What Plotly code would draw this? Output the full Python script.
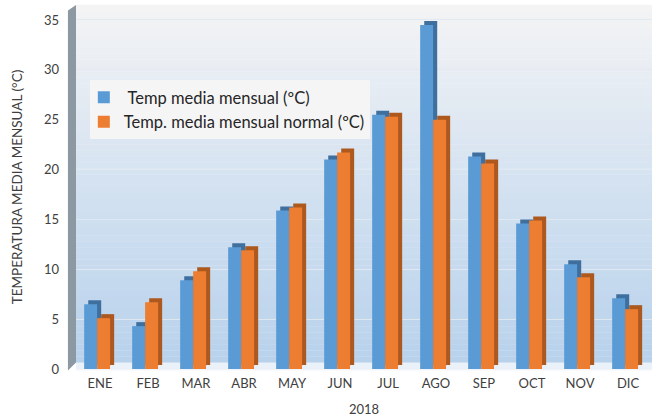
import plotly.graph_objects as go

months = ["ENE", "FEB", "MAR", "ABR", "MAY", "JUN", "JUL", "AGO", "SEP", "OCT", "NOV", "DIC"]
temp_media = [6.5, 4.3, 8.9, 12.2, 15.9, 21.0, 25.5, 34.5, 21.3, 14.6, 10.5, 7.1]
temp_normal = [5.1, 6.7, 9.8, 11.9, 16.2, 21.7, 25.3, 25.0, 20.6, 14.9, 9.2, 6.0]
y_ticks = [0, 5, 10, 15, 20, 25, 30, 35]

name_media = " Temp media mensual (ºC)"
name_normal = "Temp. media mensual normal (ºC)"

BLUE, BLUE_D = "#5b9bd5", "#3f6f9f"
ORANGE, ORANGE_D = "#ed7d31", "#ad581d"
W = 0.27
DX, DY = 0.085, 0.4

fig = go.Figure()
# 3D side/top faces (darker, shifted back)
fig.add_trace(go.Bar(x=months, y=temp_media, base=DY, offset=-0.33 + DX, width=W,
                     marker=dict(color=BLUE_D, line=dict(width=0)), showlegend=False, hoverinfo="skip"))
fig.add_trace(go.Bar(x=months, y=temp_media, offset=-0.33, width=W, name=name_media,
                     marker=dict(color=BLUE, line=dict(width=0))))
fig.add_trace(go.Bar(x=months, y=temp_normal, base=DY, offset=-0.06 + DX, width=W,
                     marker=dict(color=ORANGE_D, line=dict(width=0)), showlegend=False, hoverinfo="skip"))
fig.add_trace(go.Bar(x=months, y=temp_normal, offset=-0.06, width=W, name=name_normal,
                     marker=dict(color=ORANGE, line=dict(width=0))))

# background gradient (top light grey -> bottom light blue)
shapes = []
N = 60
top = (244, 244, 245)
mid = (212, 226, 241)
bot = (184, 210, 236)
for i in range(N):
    t = i / (N - 1)
    if t < 0.5:
        u = t / 0.5
        c = tuple(int(top[k] + (mid[k] - top[k]) * u) for k in range(3))
    else:
        u = (t - 0.5) / 0.5
        c = tuple(int(mid[k] + (bot[k] - mid[k]) * u) for k in range(3))
    y1 = 1 - i / N
    y0 = 1 - (i + 1) / N
    shapes.append(dict(type="rect", xref="paper", yref="paper", x0=0, x1=1, y0=y0, y1=y1 + 0.001,
                       fillcolor="rgb(%d,%d,%d)" % c, line=dict(width=0), layer="below"))
# floor band
shapes.append(dict(type="rect", xref="paper", yref="paper", x0=0, x1=1, y0=-0.004, y1=0.018,
                   fillcolor="rgba(240,244,249,0.9)", line=dict(width=0), layer="below"))
# left wall
shapes.append(dict(type="path", xref="paper", yref="paper",
                   path="M -0.014,-0.004 L 0,0.018 L 0,1 L -0.014,0.985 Z",
                   fillcolor="#8c98a2", line=dict(width=0), layer="below"))

fig.update_layout(
    width=656, height=417,
    margin=dict(l=76, r=4, t=5, b=48),
    paper_bgcolor="white",
    plot_bgcolor="rgba(0,0,0,0)",
    barmode="overlay",
    shapes=shapes,
    font=dict(family="Lato, Open Sans, sans-serif", color="#404040", size=13),
    legend=dict(x=0.024, y=0.794, xanchor="left", yanchor="top",
                bgcolor="rgba(246,246,246,0.95)", font=dict(size=16.5, color="#262626"),
                tracegroupgap=0, itemwidth=30, indentation=-6),
    xaxis=dict(showgrid=False, showline=False, ticks="", tickfont=dict(size=13),
               ticklabelstandoff=5,
               title=dict(text="2018", font=dict(size=13), standoff=14),
               range=[-0.5, 11.5]),
    yaxis=dict(range=[0, 36.5], tickvals=y_ticks, showgrid=True, gridcolor="rgba(225,232,240,0.9)",
               gridwidth=1, zeroline=False, showline=False, tickfont=dict(size=13),
               ticklabelstandoff=16,
               title=dict(text="TEMPERATURA MEDIA MENSUAL (°C)", font=dict(size=13.5), standoff=18)),
)

fig.write_html("out.html", config={"displayModeBar": False},
               post_script="document.body.style.margin='0';")
